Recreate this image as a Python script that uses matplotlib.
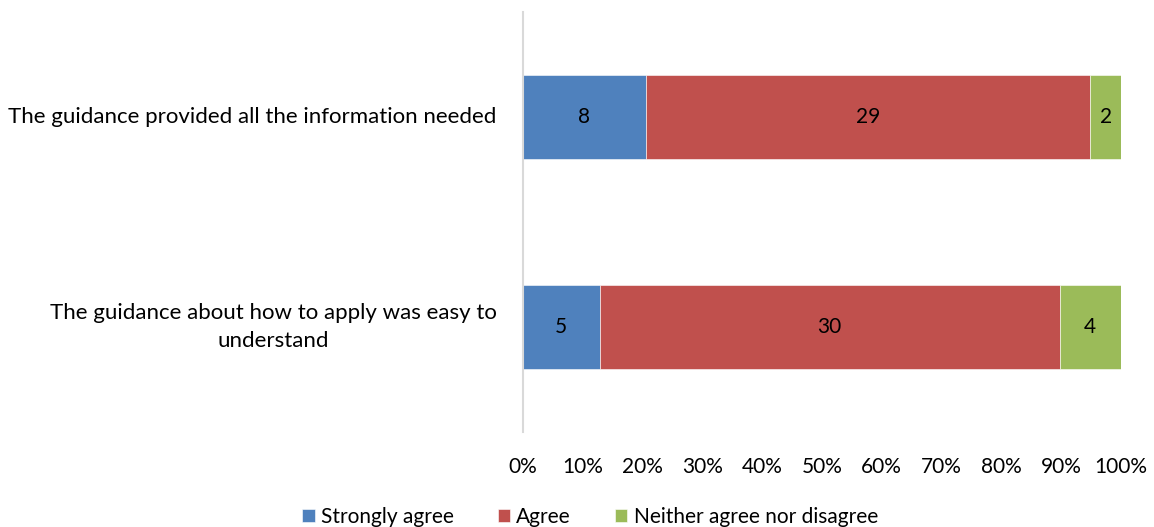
import numpy as np
import matplotlib.pyplot as plt

plt.rcParams['font.family'] = ['Lato', 'DejaVu Sans']

# data
vragen = ["The guidance about how to apply was easy to\nunderstand",
          "The guidance provided all the information needed"]
series = ["Strongly agree", "Agree", "Neither agree nor disagree"]
strongly_agree = [5, 8]
agree = [30, 29]
neither = [4, 2]
kleuren = ["#4F81BD", "#C0504D", "#9BBB59"]

counts = np.array([strongly_agree, agree, neither], dtype=float)
totaal = counts.sum(axis=0)
pct = counts / totaal

fs = 15

fig = plt.figure(figsize=(11.54, 5.27), dpi=100)
ax = fig.add_axes([523/1154, (527-432)/527, (1121-523)/1154, (432-12)/527])

y = np.arange(len(vragen))
left = np.zeros(len(vragen))
for i in range(len(series)):
    bars = ax.barh(y, pct[i], left=left, height=0.4, color=kleuren[i],
                   label=series[i], edgecolor="white", linewidth=0.4)
    for j, b in enumerate(bars):
        ax.text(left[j] + pct[i][j] / 2, y[j], "%d" % counts[i][j],
                ha="center", va="center", fontsize=fs, color="black")
    left = left + pct[i]

ax.set_xlim(0, 1)
ax.set_ylim(-0.5, 1.5)
ax.set_xticks(np.linspace(0, 1, 11))
ax.set_xticklabels(["%d%%" % v for v in range(0, 101, 10)], fontsize=fs)
ax.set_yticks(y)
ax.set_yticklabels(vragen, fontsize=16, multialignment="center", linespacing=1.5, va="center")
ax.tick_params(axis="x", length=0, pad=18)
ax.tick_params(axis="y", length=0, pad=19)

for s in ["top", "right", "bottom"]:
    ax.spines[s].set_visible(False)
ax.spines["left"].set_color("#D9D9D9")
ax.spines["left"].set_linewidth(1.5)

leg = fig.legend(loc="center", bbox_to_anchor=(590/1154, 1 - 517/527), ncol=3,
                 frameon=False, fontsize=fs, handlelength=0.6, handleheight=0.6,
                 handletextpad=0.3, columnspacing=2.1, borderaxespad=0)

fig.savefig("out.png", dpi=100)
